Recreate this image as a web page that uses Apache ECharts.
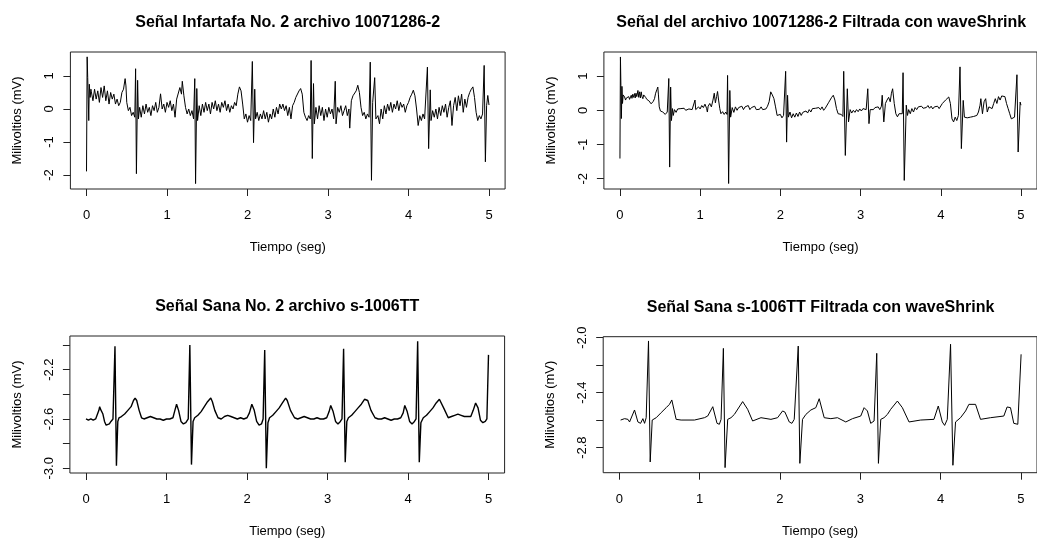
<!DOCTYPE html>
<html>
<head>
<meta charset="utf-8">
<script src="https://cdn.jsdelivr.net/npm/echarts@6/dist/echarts.min.js"></script>
<style>
  html, body { margin: 0; padding: 0; background: #fff; }
  #chart { width: 1037px; height: 539px; }
</style>
</head>
<body>
<div id="chart"></div>
<script>
// títulos de cada panel
const titles = [
  'Señal Infartafa No. 2 archivo 10071286-2',
  'Señal del archivo 10071286-2 Filtrada con waveShrink',
  'Señal Sana No. 2 archivo s-1006TT',
  'Señal Sana s-1006TT Filtrada con waveShrink'
];
const xName = 'Tiempo (seg)';
const yName = 'Milivoltios (mV)';

// marcas del eje de tiempo
const timeTicks = [0, 1, 2, 3, 4, 5];

// marcas del eje Y de cada panel (ticks y los que llevan etiqueta)
const yTicksInfarto = [-2, -1, 0, 1];
const yTicksSana = [-3.0, -2.8, -2.6, -2.4, -2.2, -2.0];
const yLabelsSana = [-3.0, -2.6, -2.2];
const yTicksSanaFilt = [-2.8, -2.6, -2.4, -2.2, -2.0];
const yLabelsSanaFilt = [-2.8, -2.4, -2.0];

// señal infartada original [tiempo, mV]
const infartoRaw = [
  [0.000,-1.89],[0.008,1.58],[0.015,0.95],[0.022,0.30],[0.028,-0.35],[0.035,0.75],[0.045,0.35],[0.055,0.60],
  [0.06,0.52],[0.08,0.25],[0.10,0.60],[0.12,0.30],[0.14,0.55],[0.16,0.20],[0.18,0.65],[0.20,0.35],[0.22,0.70],
  [0.24,0.25],[0.26,0.55],[0.28,0.15],[0.30,0.50],[0.32,0.30],[0.34,0.45],[0.36,0.15],[0.38,0.30],[0.40,0.10],
  [0.42,0.20],[0.44,0.50],[0.46,0.60],[0.48,0.92],[0.49,0.70],[0.50,0.20],[0.52,-0.05],[0.54,0.05],[0.56,-0.20],
  [0.58,-0.10],[0.60,-0.25],
  [0.61,1.22],[0.62,-1.96],[0.635,0.87],[0.645,-0.30],
  [0.66,0.05],[0.68,-0.25],[0.70,0.10],[0.72,-0.15],[0.74,0.15],[0.76,-0.10],[0.78,0.05],[0.80,-0.20],[0.82,0.10],
  [0.84,-0.05],[0.86,0.20],[0.88,-0.10],[0.90,0.05],[0.92,0.46],[0.94,0.00],[0.96,0.15],[0.98,-0.10],[1.00,0.20],
  [1.02,0.05],[1.04,0.25],[1.06,-0.05],[1.08,0.15],[1.10,-0.25],[1.12,0.30],[1.14,0.35],[1.16,0.65],[1.18,0.45],
  [1.19,0.84],[1.21,0.40],[1.23,0.05],[1.25,-0.15],[1.27,0.00],[1.29,-0.20],[1.31,-0.05],[1.33,-0.30],
  [1.345,0.92],[1.355,-2.26],[1.37,0.62],[1.38,-0.35],
  [1.40,0.10],[1.42,-0.20],[1.44,0.15],[1.46,-0.10],[1.48,0.20],[1.50,-0.05],[1.52,0.15],[1.54,-0.15],[1.56,0.20],
  [1.58,0.00],[1.60,0.25],[1.62,-0.05],[1.64,0.15],[1.66,-0.10],[1.68,0.20],[1.70,0.05],[1.72,0.25],[1.74,-0.05],
  [1.76,0.15],[1.78,-0.10],[1.80,0.10],[1.82,0.00],[1.84,0.20],[1.86,0.10],[1.88,0.45],[1.90,0.67],[1.92,0.55],
  [1.94,0.15],[1.96,-0.30],[1.98,-0.15],[2.00,-0.40],[2.02,-0.20],[2.04,-0.35],
  [2.06,1.44],[2.075,-1.02],[2.09,0.60],[2.10,-0.30],
  [2.12,-0.10],[2.14,-0.35],[2.16,-0.15],[2.18,-0.30],[2.20,-0.05],[2.22,-0.30],[2.24,-0.10],[2.26,-0.40],
  [2.28,-0.15],[2.30,-0.30],[2.32,0.00],[2.34,-0.25],[2.36,0.05],[2.38,-0.15],[2.40,0.15],[2.42,0.00],[2.44,0.15],
  [2.46,-0.05],[2.48,0.10],[2.50,-0.20],[2.52,0.05],[2.54,-0.30],[2.56,0.10],[2.58,0.20],[2.60,0.35],[2.62,0.40],
  [2.64,0.55],[2.66,0.62],[2.68,0.45],[2.70,-0.10],[2.72,-0.25],[2.74,-0.35],[2.76,-0.20],[2.78,-0.30],
  [2.79,1.47],[2.805,-1.50],[2.82,0.77],[2.83,-0.45],
  [2.85,0.05],[2.87,-0.30],[2.89,0.10],[2.91,-0.20],[2.93,0.05],[2.95,-0.35],[2.97,0.00],[2.99,-0.25],[3.01,0.05],
  [3.03,-0.15],[3.05,0.00],[3.07,-0.30],[3.09,0.84],[3.10,-0.45],[3.12,0.05],[3.14,-0.10],[3.16,0.10],[3.18,-0.20],
  [3.20,-0.05],[3.22,0.10],[3.24,-0.20],[3.26,0.00],[3.27,-0.58],[3.29,0.25],[3.31,0.40],[3.33,0.45],[3.35,0.55],
  [3.37,0.72],[3.39,0.50],[3.41,0.05],[3.43,-0.20],[3.45,-0.10],[3.47,-0.30],[3.49,-0.15],[3.51,-0.25],
  [3.525,1.42],[3.54,-2.16],[3.555,0.20],[3.58,0.95],[3.595,-0.30],
  [3.62,-0.20],[3.64,-0.45],[3.66,0.00],[3.68,-0.30],[3.70,0.10],[3.72,-0.15],[3.74,0.15],[3.76,-0.05],[3.78,0.20],
  [3.80,-0.10],[3.82,0.15],[3.84,0.00],[3.86,0.25],[3.88,-0.05],[3.90,0.20],[3.92,0.05],[3.94,0.15],[3.96,-0.10],
  [3.98,0.10],[4.00,0.20],[4.02,0.35],[4.04,0.45],[4.06,0.57],[4.08,0.40],[4.10,0.00],[4.12,-0.50],[4.14,-0.20],
  [4.16,-0.35],[4.18,-0.15],[4.20,-0.30],
  [4.235,1.27],[4.25,-1.20],[4.27,0.58],[4.28,-0.35],
  [4.30,-0.05],[4.32,-0.25],[4.34,0.00],[4.36,-0.30],[4.38,0.05],[4.40,-0.20],[4.42,0.10],[4.44,-0.10],[4.46,0.15],
  [4.48,-0.25],[4.50,0.05],[4.52,0.25],[4.54,-0.50],[4.56,0.10],[4.58,0.35],[4.60,-0.05],[4.62,0.40],[4.64,0.10],
  [4.66,0.45],[4.68,-0.10],[4.70,0.30],[4.72,0.05],[4.74,0.35],[4.76,0.50],[4.78,0.60],[4.80,0.67],[4.82,0.35],
  [4.84,-0.10],[4.86,-0.35],[4.88,-0.20],[4.90,-0.30],[4.92,-0.15],
  [4.94,1.32],[4.955,-1.60],[4.97,0.10],[4.985,0.41],[5.00,0.12]
];

// señal infartada filtrada con waveShrink
const infartoFilt = [
  [0.000,-1.41],[0.006,1.56],[0.012,0.73],[0.018,-0.24],[0.025,0.70],[0.032,0.20],[0.040,0.45],
  [0.058,0.39],[0.07,0.30],[0.08,0.36],[0.099,0.34],[0.11,0.40],[0.12,0.32],[0.141,0.44],[0.15,0.35],[0.16,0.47],
  [0.17,0.38],[0.182,0.49],[0.19,0.36],[0.20,0.50],[0.21,0.40],[0.224,0.58],[0.234,0.38],[0.244,0.54],[0.255,0.36],
  [0.265,0.54],[0.275,0.40],[0.286,0.34],[0.296,0.45],[0.306,0.49],[0.32,0.38],[0.335,0.32],[0.348,0.34],[0.36,0.28],
  [0.375,0.25],[0.389,0.19],[0.40,0.24],[0.415,0.26],[0.431,0.34],[0.445,0.50],[0.46,0.60],[0.472,0.68],[0.48,0.45],
  [0.49,0.10],[0.505,-0.02],[0.52,0.02],[0.534,-0.05],[0.55,-0.02],[0.565,-0.12],[0.576,-0.10],[0.59,-0.05],[0.600,-0.08],
  [0.609,0.93],[0.620,-1.66],[0.632,0.68],[0.642,-0.30],
  [0.655,0.05],[0.665,-0.15],[0.68,0.02],[0.70,-0.06],[0.72,0.04],[0.74,0.02],[0.76,0.05],[0.78,0.03],[0.80,0.06],
  [0.82,0.00],[0.84,0.05],[0.86,0.04],[0.88,0.08],[0.90,0.02],[0.92,0.05],[0.936,0.30],[0.945,0.02],[0.96,0.06],
  [0.98,0.10],[1.00,0.04],[1.02,0.14],[1.04,0.08],[1.06,0.18],[1.08,0.06],[1.09,-0.05],[1.10,0.12],[1.12,0.20],
  [1.14,0.10],[1.16,0.30],[1.176,0.50],[1.19,0.22],[1.205,0.40],[1.217,0.55],[1.23,0.30],[1.245,0.05],[1.259,-0.10],
  [1.28,-0.04],[1.30,-0.12],[1.32,-0.05],[1.335,-0.12],
  [1.342,1.02],[1.355,-2.14],[1.37,0.58],[1.38,-0.20],
  [1.40,0.08],[1.42,-0.06],[1.44,0.10],[1.46,0.00],[1.48,0.08],[1.50,0.04],[1.52,0.12],[1.54,0.02],[1.56,0.10],
  [1.58,0.05],[1.60,0.14],[1.62,0.02],[1.64,0.08],[1.66,0.04],[1.68,0.12],[1.70,0.02],[1.72,0.06],[1.74,0.03],
  [1.76,0.10],[1.78,0.02],[1.80,0.05],[1.82,0.04],[1.84,0.12],[1.86,0.25],[1.88,0.54],[1.90,0.45],[1.92,0.34],
  [1.94,0.10],[1.96,-0.15],[1.98,-0.18],[2.00,-0.12],[2.02,-0.22],[2.04,-0.15],[2.06,-0.20],
  [2.066,1.14],[2.078,-0.93],[2.09,0.44],[2.10,-0.20],
  [2.12,-0.05],[2.14,-0.22],[2.16,-0.10],[2.18,-0.20],[2.20,-0.08],[2.22,-0.18],[2.24,-0.05],[2.26,-0.15],
  [2.28,-0.06],[2.30,-0.10],[2.32,-0.02],[2.34,-0.08],[2.36,0.02],[2.38,-0.05],[2.40,0.05],[2.42,0.00],[2.44,0.06],
  [2.46,0.04],[2.48,0.08],[2.50,0.02],[2.52,0.10],[2.54,0.00],[2.56,0.06],[2.58,0.10],[2.60,0.22],[2.62,0.30],
  [2.64,0.38],[2.66,0.44],[2.68,0.30],[2.70,0.05],[2.72,-0.10],[2.74,-0.15],[2.76,-0.12],[2.78,-0.18],
  [2.79,1.14],[2.81,-1.32],[2.835,0.63],[2.85,-0.34],
  [2.87,0.02],[2.89,-0.08],[2.91,0.00],[2.93,-0.06],[2.95,0.02],[2.97,-0.04],[2.99,0.04],[3.01,-0.02],[3.03,0.05],
  [3.05,0.00],[3.07,0.02],[3.09,0.63],[3.105,-0.39],[3.12,0.02],[3.14,0.06],[3.16,0.02],[3.18,0.08],[3.20,0.04],
  [3.22,0.10],[3.24,0.02],[3.26,0.12],[3.27,0.44],[3.29,-0.34],[3.31,0.20],[3.33,0.30],[3.35,0.38],[3.37,0.25],
  [3.385,0.50],[3.40,0.63],[3.42,0.20],[3.44,-0.10],[3.46,-0.19],[3.48,-0.10],[3.50,-0.15],[3.52,-0.10],
  [3.53,1.10],[3.545,-2.05],[3.57,0.15],[3.585,-0.15],
  [3.60,0.02],[3.62,-0.10],[3.64,0.05],[3.66,-0.05],[3.68,0.08],[3.70,0.02],[3.72,0.10],[3.74,0.05],[3.76,0.12],
  [3.78,0.06],[3.80,0.10],[3.82,0.08],[3.84,0.14],[3.86,0.06],[3.88,0.12],[3.90,0.04],[3.92,0.10],[3.94,0.08],
  [3.96,0.12],[3.98,0.05],[4.00,0.10],[4.02,0.20],[4.04,0.25],[4.06,0.30],[4.08,0.35],[4.10,0.39],[4.12,0.20],
  [4.14,-0.25],[4.16,-0.34],[4.18,-0.20],[4.20,-0.30],[4.22,-0.15],[4.235,-0.20],
  [4.24,1.27],[4.257,-1.12],[4.28,0.29],[4.295,-0.20],
  [4.31,-0.25],[4.33,-0.22],[4.35,-0.24],[4.37,-0.20],[4.39,-0.25],[4.41,-0.18],[4.43,-0.22],[4.45,-0.15],
  [4.47,-0.05],[4.49,0.15],[4.50,0.34],[4.52,-0.10],[4.54,0.25],[4.56,0.34],[4.58,-0.05],[4.60,0.10],[4.62,0.15],
  [4.64,0.05],[4.66,0.20],[4.68,0.34],[4.70,0.20],[4.72,0.40],[4.74,0.30],[4.76,0.42],[4.78,0.46],[4.80,0.40],
  [4.82,0.20],[4.84,0.05],[4.86,-0.10],[4.88,-0.25],[4.90,-0.29],[4.92,-0.20],[4.94,-0.25],
  [4.95,1.04],[4.965,-1.22],[4.99,0.24],[5.00,0.15]
];

// señal sana original
const sanaRaw = [
  [0.00,-2.60],[0.03,-2.61],[0.06,-2.60],[0.09,-2.61],[0.12,-2.60],[0.14,-2.60],[0.16,-2.53],[0.17,-2.50],
  [0.18,-2.52],[0.19,-2.51],[0.21,-2.56],[0.23,-2.62],[0.25,-2.65],[0.27,-2.65],[0.29,-2.64],[0.31,-2.62],
  [0.335,-2.60],[0.36,-2.01],[0.378,-2.98],[0.395,-2.62],[0.41,-2.59],[0.44,-2.58],[0.48,-2.56],[0.52,-2.53],
  [0.56,-2.50],[0.59,-2.45],[0.61,-2.43],[0.63,-2.45],[0.66,-2.53],[0.69,-2.59],[0.72,-2.60],[0.76,-2.59],
  [0.80,-2.58],[0.84,-2.59],[0.88,-2.60],[0.92,-2.60],[0.96,-2.61],[1.00,-2.60],[1.04,-2.60],[1.08,-2.59],
  [1.10,-2.54],[1.125,-2.48],[1.15,-2.53],[1.18,-2.62],[1.21,-2.64],[1.24,-2.63],[1.27,-2.60],[1.29,-2.00],
  [1.31,-2.97],[1.33,-2.62],[1.35,-2.59],[1.39,-2.57],[1.43,-2.54],[1.47,-2.50],[1.51,-2.46],[1.55,-2.43],
  [1.57,-2.46],[1.60,-2.53],[1.64,-2.59],[1.68,-2.60],[1.72,-2.58],[1.76,-2.57],[1.80,-2.58],[1.84,-2.59],
  [1.88,-2.60],[1.92,-2.59],[1.96,-2.60],[2.00,-2.59],[2.03,-2.55],[2.06,-2.48],[2.09,-2.53],[2.12,-2.62],
  [2.15,-2.65],[2.18,-2.64],[2.20,-2.60],[2.22,-2.04],[2.24,-3.00],[2.26,-2.63],[2.28,-2.59],[2.32,-2.57],
  [2.36,-2.54],[2.40,-2.51],[2.44,-2.47],[2.48,-2.43],[2.50,-2.45],[2.54,-2.53],[2.59,-2.59],[2.63,-2.60],
  [2.67,-2.59],[2.71,-2.58],[2.75,-2.59],[2.79,-2.60],[2.83,-2.60],[2.87,-2.59],[2.91,-2.60],[2.95,-2.60],
  [2.99,-2.59],[3.02,-2.54],[3.04,-2.49],[3.07,-2.54],[3.10,-2.62],[3.13,-2.64],[3.16,-2.62],[3.18,-2.60],
  [3.20,-2.03],[3.22,-2.95],[3.24,-2.62],[3.26,-2.59],[3.30,-2.57],[3.34,-2.54],[3.38,-2.51],[3.42,-2.48],
  [3.46,-2.44],[3.48,-2.43],[3.50,-2.45],[3.54,-2.53],[3.59,-2.59],[3.63,-2.60],[3.67,-2.60],[3.71,-2.59],
  [3.75,-2.60],[3.79,-2.61],[3.83,-2.60],[3.87,-2.60],[3.91,-2.59],[3.94,-2.55],[3.96,-2.49],[3.99,-2.54],
  [4.02,-2.62],[4.05,-2.64],[4.08,-2.62],[4.10,-2.60],[4.12,-1.97],[4.14,-2.95],[4.16,-2.63],[4.19,-2.59],
  [4.23,-2.57],[4.27,-2.54],[4.31,-2.51],[4.35,-2.47],[4.39,-2.44],[4.41,-2.45],[4.45,-2.52],[4.50,-2.59],
  [4.54,-2.58],[4.58,-2.57],[4.62,-2.56],[4.66,-2.57],[4.70,-2.58],[4.74,-2.58],[4.78,-2.58],[4.81,-2.53],
  [4.84,-2.47],[4.87,-2.51],[4.90,-2.61],[4.93,-2.63],[4.96,-2.62],[4.98,-2.60],[5.00,-2.08]
];

// señal sana filtrada con waveShrink
const sanaFilt = [
  [0.017,-2.599],[0.066,-2.589],[0.108,-2.594],[0.128,-2.613],[0.190,-2.526],[0.232,-2.613],[0.265,-2.623],
  [0.294,-2.589],[0.315,-2.623],[0.335,-2.582],[0.364,-2.024],[0.385,-2.904],[0.410,-2.599],[0.460,-2.582],
  [0.522,-2.545],[0.584,-2.509],[0.625,-2.485],[0.654,-2.453],[0.708,-2.594],[0.770,-2.599],[0.936,-2.599],
  [1.060,-2.582],[1.101,-2.570],[1.164,-2.502],[1.217,-2.623],[1.246,-2.630],[1.267,-2.594],[1.296,-2.078],
  [1.317,-2.945],[1.350,-2.594],[1.391,-2.582],[1.433,-2.558],[1.536,-2.465],[1.598,-2.521],[1.660,-2.606],
  [1.764,-2.582],[1.888,-2.594],[1.971,-2.582],[2.033,-2.533],[2.062,-2.541],[2.116,-2.613],[2.149,-2.623],
  [2.178,-2.594],[2.228,-2.061],[2.248,-2.914],[2.281,-2.594],[2.323,-2.558],[2.385,-2.526],[2.447,-2.509],
  [2.489,-2.444],[2.551,-2.582],[2.634,-2.589],[2.716,-2.582],[2.820,-2.613],[2.903,-2.589],[3.006,-2.570],
  [3.048,-2.509],[3.089,-2.533],[3.130,-2.623],[3.172,-2.606],[3.205,-2.114],[3.226,-2.914],[3.255,-2.594],
  [3.296,-2.582],[3.338,-2.558],[3.379,-2.521],[3.462,-2.461],[3.524,-2.509],[3.607,-2.613],[3.752,-2.599],
  [3.917,-2.594],[3.971,-2.497],[4.021,-2.613],[4.050,-2.638],[4.083,-2.594],[4.124,-2.048],[4.153,-2.928],
  [4.186,-2.613],[4.248,-2.582],[4.311,-2.533],[4.352,-2.485],[4.435,-2.485],[4.497,-2.594],[4.621,-2.582],
  [4.787,-2.570],[4.828,-2.504],[4.870,-2.509],[4.911,-2.623],[4.961,-2.630],[5.002,-2.121]
];

const chart = echarts.init(document.getElementById('chart'), null, { renderer: 'canvas' });

const FONT = '"Liberation Sans", Arial, Helvetica, sans-serif';
const INK = '#000';

// caja de cada panel en píxeles (como par(mfrow=c(2,2)) de R)
const boxes = [
  { left: 70.4, top: 52, width: 434.7, height: 137, yMin: -2.424, yMax: 1.727 },
  { left: 603.9, top: 52, width: 434.7, height: 137, yMin: -2.301, yMax: 1.705 },
  { left: 69.9, top: 336, width: 434.7, height: 137, yMin: -3.038, yMax: -1.927 },
  { left: 603.2, top: 336.7, width: 434.7, height: 136, yMin: -2.982, yMax: -1.993 }
];
const yTickSets = [yTicksInfarto, yTicksInfarto, yTicksSana, yTicksSanaFilt];
const yLabelSets = [yTicksInfarto, yTicksInfarto, yLabelsSana, yLabelsSanaFilt];
const yDecimals = [0, 0, 1, 1];
const signals = [infartoRaw, infartoFilt, sanaRaw, sanaFilt];
const lineWidths = [1, 1, 1.4, 1];

const option = {
  animation: false,
  backgroundColor: '#fff',
  title: boxes.map((b, i) => ({
    text: titles[i],
    left: b.left + b.width / 2,
    top: b.top - 37,
    padding: 0,
    textAlign: 'center',
    textStyle: { fontFamily: FONT, fontSize: 16, fontWeight: 'bold', color: INK }
  })),
  grid: boxes.map(b => ({
    left: b.left, top: b.top, width: b.width, height: b.height,
    show: true, borderColor: '#222', borderWidth: 1, backgroundColor: 'transparent'
  })),
  xAxis: boxes.map((b, i) => ({
    type: 'value', gridIndex: i, min: -0.2, max: 5.2,
    name: xName, nameLocation: 'middle', nameGap: 52,
    nameTextStyle: { fontFamily: FONT, fontSize: 13, color: INK },
    axisLine: { show: false, onZero: false },
    axisTick: { show: true, length: 7, customValues: timeTicks, lineStyle: { color: '#222' } },
    axisLabel: { customValues: timeTicks, margin: 20, fontFamily: FONT, fontSize: 13, color: INK },
    splitLine: { show: false }
  })),
  yAxis: boxes.map((b, i) => ({
    type: 'value', gridIndex: i, min: b.yMin, max: b.yMax,
    name: yName, nameLocation: 'middle', nameGap: 46,
    nameTextStyle: { fontFamily: FONT, fontSize: 13, color: INK },
    axisLine: { show: false, onZero: false },
    axisTick: { show: true, length: 7, customValues: yTickSets[i], lineStyle: { color: '#222' } },
    axisLabel: {
      customValues: yLabelSets[i], rotate: 90, margin: 14,
      fontFamily: FONT, fontSize: 13, color: INK,
      formatter: v => Number(v).toFixed(yDecimals[i])
    },
    splitLine: { show: false }
  })),
  series: signals.map((data, i) => ({
    type: 'line', xAxisIndex: i, yAxisIndex: i,
    data: data, showSymbol: false, symbol: 'none',
    lineStyle: { color: INK, width: lineWidths[i] },
    emphasis: { disabled: true }
  }))
};

chart.setOption(option);
</script>
</body>
</html>
